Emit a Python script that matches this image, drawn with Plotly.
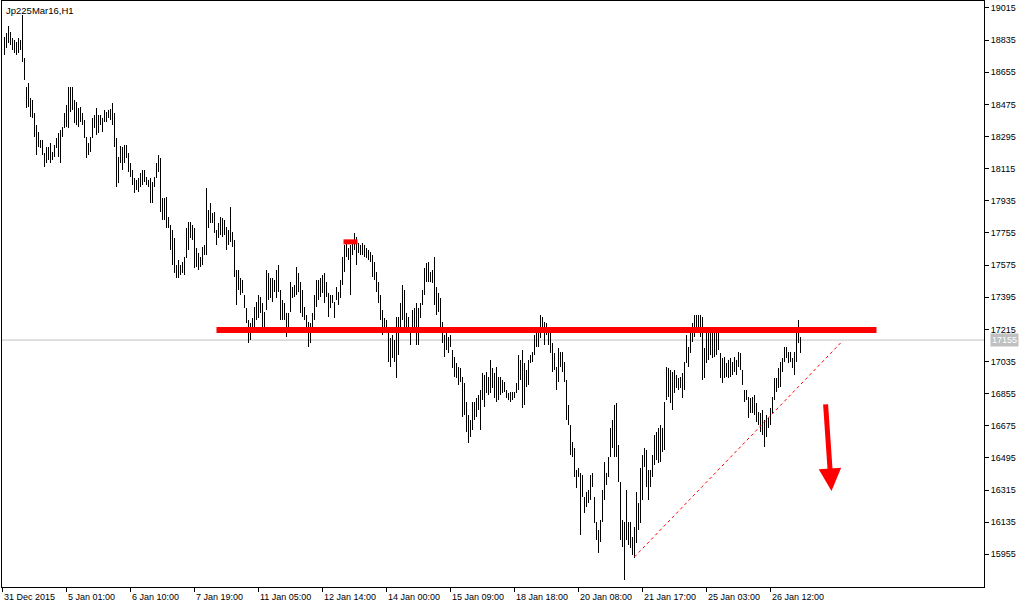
import plotly.graph_objects as go

# ---- data (H1 bars, high / low) ----
bar_high = [
    18853, 18875, 18914, 18881, 18847, 18836, 18825, 18847, 18836, 18976,
    18735, 18573, 18595, 18511, 18500, 18427, 18360, 18321, 18276, 18276,
    18203, 18237, 18237, 18259, 18209, 18248, 18287, 18315, 18332, 18349,
    18427, 18472, 18573, 18573, 18573, 18500, 18489, 18455, 18461, 18427,
    18388, 18293, 18259, 18293, 18399, 18416, 18455, 18416, 18416, 18399,
    18444, 18433, 18444, 18450, 18483, 18427, 18287, 18181, 18242, 18237,
    18248, 18248, 18203, 18147, 18108, 18063, 18052, 18063, 18091, 18108,
    18108, 18069, 18052, 18063, 18041, 18069, 18147, 18192, 18175, 17951,
    17951, 17957, 17845, 17800, 17772, 17727, 17576, 17604, 17576, 17593,
    17621, 17783, 17817, 17817, 17800, 17783, 17671, 17643, 17621, 17677,
    17688, 18007, 17884, 17923, 17867, 17873, 17772, 17811, 17845, 17839,
    17828, 17789, 17772, 17901, 17761, 17716, 17548, 17548, 17503, 17492,
    17408, 17335, 17268, 17251, 17279, 17341, 17369, 17408, 17397, 17363,
    17313, 17548, 17531, 17503, 17503, 17492, 17548, 17576, 17436, 17380,
    17363, 17307, 17307, 17481, 17453, 17464, 17565, 17531, 17481, 17436,
    17341, 17296, 17257, 17251, 17307, 17408, 17492, 17492, 17503, 17520,
    17531, 17481, 17419, 17408, 17408, 17369, 17453, 17425, 17492, 17621,
    17688, 17699, 17671, 17688, 17716, 17755, 17733, 17699, 17688, 17699,
    17688, 17671, 17660, 17649, 17632, 17593, 17537, 17481, 17408, 17324,
    17279, 17268, 17212, 17167, 17184, 17156, 17285, 17285, 17363, 17464,
    17436, 17307, 17285, 17229, 17324, 17335, 17363, 17335, 17363, 17436,
    17559, 17587, 17593, 17537, 17548, 17621, 17453, 17419, 17391, 17257,
    17184, 17195, 17173, 17184, 17100, 17061, 17027, 17005, 16999, 16949,
    16915, 16809, 16736, 16708, 16809, 16809, 16831, 16848, 16876, 16971,
    16960, 16977, 16949, 17044, 16999, 16971, 17005, 16949, 16949, 16932,
    16921, 16876, 16859, 16865, 16865, 16865, 16915, 17072, 17044, 17100,
    17027, 16988, 17044, 17072, 17089, 17184, 17223, 17223, 17296, 17285,
    17257, 17251, 17229, 17195, 17139, 17083, 17005, 17111, 17089, 17089,
    17033, 16932, 16792, 16680, 16585, 16551, 16428, 16439, 16411, 16400,
    16277, 16305, 16316, 16400, 16411, 16277, 16137, 16092, 16148, 16316,
    16473, 16411, 16501, 16663, 16708, 16792, 16803, 16568, 16361, 16148,
    16137, 16316, 16137, 16137, 16053, 16109, 16305, 16243, 16439, 16512,
    16551, 16540, 16428, 16428, 16512, 16624, 16641, 16663, 16680, 16663,
    16809, 17005, 16999, 16988, 16977, 16988, 16960, 16943, 16949, 16971,
    17033, 17184, 17117, 17201, 17251, 17296, 17296, 17296, 17296, 17285,
    17111, 17223, 17223, 17195, 17195, 17195, 17223, 17223, 17083, 17055,
    17061, 17027, 17044, 17055, 17033, 17061, 17044, 17089, 17083, 16988,
    16876, 16876, 16837, 16831, 16837, 16848, 16803, 16753, 16747, 16764,
    16708, 16736, 16719, 16775, 16837, 16943, 16943, 16999, 17033, 17055,
    17117, 17117, 17089, 17089, 17055, 17089, 17201, 17268, 17173,
]
bar_low = [
    18752, 18791, 18819, 18808, 18780, 18763, 18752, 18763, 18780, 18713,
    18612, 18455, 18461, 18405, 18399, 18293, 18192, 18237, 18231, 18192,
    18125, 18147, 18164, 18147, 18164, 18181, 18231, 18181, 18147, 18293,
    18343, 18349, 18343, 18433, 18444, 18371, 18360, 18349, 18377, 18360,
    18287, 18175, 18192, 18209, 18287, 18343, 18304, 18315, 18360, 18321,
    18377, 18377, 18399, 18388, 18360, 18237, 18013, 18035, 18147, 18108,
    18147, 18175, 18097, 18069, 18024, 17979, 17996, 17985, 18013, 18024,
    18041, 18024, 18013, 17923, 17923, 18013, 18063, 18097, 17873, 17828,
    17828, 17783, 17783, 17660, 17576, 17531, 17503, 17503, 17520, 17531,
    17520, 17615, 17660, 17727, 17716, 17559, 17565, 17548, 17565, 17576,
    17632, 17632, 17783, 17811, 17811, 17755, 17688, 17727, 17744, 17733,
    17744, 17660, 17688, 17705, 17677, 17509, 17352, 17436, 17408, 17419,
    17335, 17251, 17139, 17156, 17212, 17223, 17268, 17279, 17307, 17223,
    17223, 17324, 17380, 17391, 17369, 17425, 17391, 17425, 17268, 17268,
    17268, 17173, 17223, 17313, 17391, 17397, 17408, 17425, 17307, 17285,
    17268, 17229, 17117, 17139, 17229, 17268, 17341, 17380, 17397, 17419,
    17363, 17397, 17285, 17335, 17363, 17279, 17380, 17352, 17391, 17464,
    17537, 17621, 17604, 17408, 17632, 17660, 17576, 17643, 17632, 17632,
    17621, 17615, 17604, 17593, 17509, 17492, 17425, 17363, 17268, 17184,
    17195, 17201, 17033, 17005, 17055, 17033, 16943, 17072, 17212, 17268,
    17229, 17195, 17195, 17128, 17195, 17201, 17128, 17128, 17279, 17352,
    17408, 17481, 17481, 17481, 17475, 17352, 17296, 17313, 17229, 17139,
    17061, 17100, 17083, 17117, 16999, 16949, 16943, 16904, 16921, 16725,
    16736, 16641, 16579, 16613, 16652, 16708, 16725, 16764, 16652, 16820,
    16781, 16859, 16848, 16859, 16887, 16831, 16809, 16820, 16848, 16859,
    16865, 16831, 16820, 16809, 16820, 16831, 16859, 16876, 16932, 16775,
    16792, 16893, 16904, 17027, 17033, 17072, 17117, 17117, 17167, 17195,
    17128, 17184, 17128, 17083, 16977, 16988, 16876, 16921, 17005, 16977,
    16921, 16708, 16680, 16512, 16501, 16389, 16327, 16389, 16064, 16277,
    16187, 16221, 16243, 16260, 16333, 16131, 16036, 15963, 16025, 16137,
    16260, 16344, 16389, 16501, 16551, 16501, 16501, 16361, 16036, 15997,
    15812, 16036, 16008, 15991, 15952, 15935, 16019, 16092, 16131, 16260,
    16445, 16333, 16260, 16333, 16389, 16456, 16484, 16467, 16473, 16529,
    16540, 16820, 16837, 16803, 16764, 16859, 16887, 16876, 16887, 16831,
    16876, 17027, 17005, 17083, 17145, 17173, 17195, 17201, 17173, 16932,
    16943, 17027, 17044, 17072, 17055, 17061, 17072, 17100, 16943, 16915,
    16943, 16949, 16943, 16949, 16960, 16977, 16960, 17005, 16988, 16904,
    16809, 16820, 16719, 16747, 16747, 16736, 16697, 16680, 16641, 16624,
    16557, 16613, 16663, 16680, 16747, 16820, 16865, 16887, 16893, 16977,
    17033, 17055, 17027, 17033, 16999, 16960, 17033, 17139, 17083,
]

time_labels = [
    "31 Dec 2015", "5 Jan 01:00", "6 Jan 10:00", "7 Jan 19:00", "11 Jan 05:00",
    "12 Jan 14:00", "14 Jan 00:00", "15 Jan 09:00", "18 Jan 18:00",
    "20 Jan 08:00", "21 Jan 17:00", "25 Jan 03:00", "26 Jan 12:00",
]
price_ticks = [15955, 16135, 16315, 16495, 16675, 16855, 17035, 17215,
               17395, 17575, 17755, 17935, 18115, 18295, 18475, 18655,
               18835, 19015]
last_price = 17155
symbol_title = "Jp225Mar16,H1"

# drawn objects (bar index, price)
resistance = {"x0": 107, "x1": 437, "price": 17211}
top_mark = {"x0": 170.5, "x1": 177.5, "price": 17705}
trend_line = {"x0": 316, "p0": 15941, "x1": 420, "p1": 17150}
down_arrow = {"x0": 411.5, "p0": 16803, "x1": 414.5, "p1": 16310}

bars_per_label = 32
bar_index = list(range(1, len(bar_high) + 1))
label_index = [k * bars_per_label for k in range(len(time_labels))]

FONT = "Liberation Sans, Arial, sans-serif"
RED = "#FF0000"

fig = go.Figure()
fig.add_trace(go.Bar(
    x=bar_index,
    y=[h - l for h, l in zip(bar_high, bar_low)],
    base=bar_low,
    width=0.5,
    marker=dict(color="#000000", line=dict(width=0)),
    hoverinfo="skip",
))

shapes = [
    dict(type="line", xref="paper", x0=0, x1=1, yref="y", y0=last_price, y1=last_price,
         line=dict(color="#C0C0C0", width=1), layer="below"),
    dict(type="line", xref="x", x0=resistance["x0"], x1=resistance["x1"], yref="y",
         y0=resistance["price"], y1=resistance["price"], line=dict(color=RED, width=6)),
    dict(type="line", xref="x", x0=top_mark["x0"], x1=top_mark["x1"], yref="y",
         y0=top_mark["price"], y1=top_mark["price"], line=dict(color=RED, width=5)),
    dict(type="line", xref="x", x0=trend_line["x0"], x1=trend_line["x1"], yref="y",
         y0=trend_line["p0"], y1=trend_line["p1"], line=dict(color=RED, width=1, dash="3px,3px")),
]

annotations = [
    dict(text=symbol_title, xref="paper", yref="paper", x=0, y=1, xanchor="left", yanchor="top",
         xshift=2, yshift=-2, showarrow=False, font=dict(family=FONT, size=9.5, color="#000000")),
    dict(text=str(last_price), xref="paper", yref="y", x=1, y=last_price, xanchor="left",
         yanchor="middle", xshift=6, showarrow=False, bgcolor="#C0C0C0", borderpad=1,
         font=dict(family=FONT, size=9, color="#FFFFFF")),
    dict(x=down_arrow["x1"], y=down_arrow["p1"], ax=down_arrow["x0"], ay=down_arrow["p0"],
         xref="x", yref="y", axref="x", ayref="y", text="", showarrow=True,
         arrowhead=2, arrowsize=0.9, arrowwidth=5, arrowcolor=RED),
]
for xi, lab in zip(label_index, time_labels):
    annotations.append(dict(text=lab, xref="x", yref="paper", x=xi, y=0, xanchor="left",
                            yanchor="top", xshift=-1, yshift=-3, showarrow=False,
                            font=dict(family=FONT, size=9, color="#000000")))

fig.update_layout(
    width=1036, height=608,
    margin=dict(l=2, r=52, t=1, b=21, pad=0, autoexpand=False),
    paper_bgcolor="#FFFFFF", plot_bgcolor="#FFFFFF",
    showlegend=False,
    bargap=0,
    shapes=shapes,
    annotations=annotations,
    xaxis=dict(range=[-0.25, 490.75], showgrid=False, zeroline=False,
               showline=True, linecolor="#000000", linewidth=1, mirror=True,
               tickmode="array", tickvals=label_index, showticklabels=False,
               ticks="outside", ticklen=4, tickcolor="#000000", tickwidth=1,
               fixedrange=True),
    yaxis=dict(range=[15772, 19054], side="right", showgrid=False, zeroline=False,
               showline=True, linecolor="#000000", linewidth=1, mirror=True,
               tickmode="array", tickvals=price_ticks, ticktext=[str(t) for t in price_ticks],
               ticks="outside", ticklen=4, tickcolor="#000000", tickwidth=1,
               tickfont=dict(family=FONT, size=9, color="#000000"),
               fixedrange=True),
)

fig.write_html(
    "out.html",
    config={"displayModeBar": False},
    post_script="document.body.style.margin='0';document.body.style.overflow='hidden';",
)
